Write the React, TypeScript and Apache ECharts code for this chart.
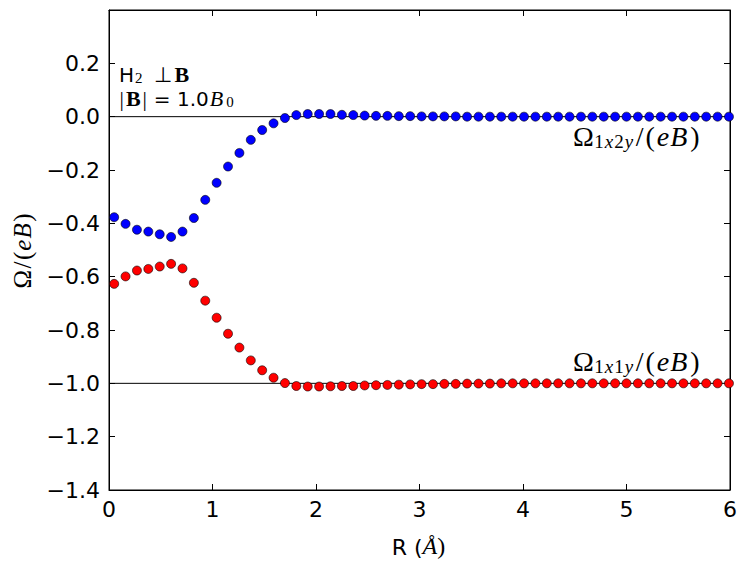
import React, { useEffect, useRef } from 'react';
import * as echarts from 'echarts';

const R_VALUES = [
  0.05, 0.16, 0.27, 0.38, 0.49, 0.6, 0.71, 0.82, 0.93, 1.04, 1.15, 1.26, 1.37, 1.48,
  1.59, 1.7, 1.81, 1.92, 2.03, 2.14, 2.25, 2.36, 2.47, 2.58, 2.69, 2.8, 2.91, 3.02,
  3.13, 3.24, 3.35, 3.46, 3.57, 3.68, 3.79, 3.9, 4.01, 4.12, 4.23, 4.34, 4.45, 4.56,
  4.67, 4.78, 4.89, 5.0, 5.11, 5.22, 5.33, 5.44, 5.55, 5.66, 5.77, 5.88, 5.99,
];

const OMEGA_1X2Y = [
  -0.377, -0.402, -0.424, -0.431, -0.441, -0.451, -0.431, -0.38, -0.312, -0.248, -0.187,
  -0.136, -0.087, -0.05, -0.025, -0.005, 0.006, 0.01, 0.01, 0.01, 0.007, 0.006,
  0.004, 0.003, 0.003, 0.002, 0.002, 0.001, 0.001, 0.001, 0.001, 0.0, 0.0, 0.0,
  0.0, 0.0, 0.0, 0.0, 0.0, 0.0, 0.0, 0.0, 0.0, 0.0, 0.0, 0.0, 0.0, 0.0, 0.0, 0.0,
  0.0, 0.0, 0.0, 0.0, 0.0,
];

const OMEGA_1X1Y = [
  -0.627, -0.599, -0.577, -0.571, -0.562, -0.552, -0.569, -0.623, -0.69, -0.754, -0.814,
  -0.866, -0.914, -0.951, -0.979, -0.999, -1.01, -1.012, -1.012, -1.011, -1.01, -1.01,
  -1.008, -1.007, -1.006, -1.005, -1.004, -1.003, -1.003, -1.002, -1.002, -1.001, -1.001,
  -1.001, -1.0, -1.0, -1.0, -1.0, -1.0, -1.0, -1.0, -1.0, -1.0, -1.0, -1.0, -1.0, -1.0,
  -1.0, -1.0, -1.0, -1.0, -1.0, -1.0, -1.0, -1.0,
];

const REFERENCE_LEVELS = [0, -1];
const X_RANGE = [0, 6];
const Y_RANGE = [-1.4, 0.4];

const SANS = 'DejaVu Sans';
const SERIF = 'Liberation Serif';

function fmtY(v: number): string {
  if (v > 0.35) return '';
  const s = (Math.abs(v) < 1e-9 ? 0 : v).toFixed(1);
  return s.replace('-', '\u2212');
}

export default function App() {
  const ref = useRef<HTMLDivElement>(null);

  useEffect(() => {
    if (!ref.current) return;
    const chart = echarts.init(ref.current, undefined, { renderer: 'svg' });

    const tickStyle = { show: true, inside: true, length: 6, lineStyle: { color: '#000', width: 1 } };
    const lineStyle = { show: true, onZero: false, lineStyle: { color: '#000', width: 1 } };

    const tok = (family: string, size: number, lh: number, extra: any = {}) => ({
      fontFamily: family,
      fontSize: size,
      lineHeight: lh,
      verticalAlign: 'bottom',
      color: '#000',
      ...extra,
    });

    const omegaRich = {
      m: tok(SERIF, 28, 32),
      sl: tok(SERIF, 28, 32, { padding: [0, 2, 0, 2] }),
      lp: tok(SERIF, 28, 32, { padding: [0, 1, 0, 0] }),
      rp: tok(SERIF, 28, 32, { padding: [0, 0, 0, 1] }),
      e: tok(SERIF, 28, 32, { fontStyle: 'italic', padding: [0, 1, 0, 1] }),
      b: tok(SERIF, 28, 32, { fontStyle: 'italic', padding: [0, 2, 0, 0] }),
      sd: tok(SERIF, 19, 10, { padding: [0, 0.5, 0, 0.5] }),
      si: tok(SERIF, 19, 10, { fontStyle: 'italic', padding: [0, 0.5, 0, 0.5] }),
    };

    const option: any = {
      animation: false,
      backgroundColor: '#fff',
      grid: {
        left: 109,
        top: 10,
        right: 16,
        bottom: 77,
        show: true,
        borderColor: '#000',
        borderWidth: 1,
        backgroundColor: 'transparent',
      },
      xAxis: [
        {
          type: 'value',
          min: X_RANGE[0],
          max: X_RANGE[1],
          interval: 1,
          position: 'bottom',
          axisLine: lineStyle,
          axisTick: tickStyle,
          splitLine: { show: false },
          axisLabel: { fontFamily: SANS, fontSize: 22, color: '#000', margin: 8 },
        },
        {
          type: 'value',
          min: X_RANGE[0],
          max: X_RANGE[1],
          interval: 1,
          position: 'top',
          axisLine: lineStyle,
          axisTick: tickStyle,
          splitLine: { show: false },
          axisLabel: { show: false },
        },
      ],
      yAxis: [
        {
          type: 'value',
          min: Y_RANGE[0],
          max: Y_RANGE[1],
          interval: 0.2,
          position: 'left',
          axisLine: lineStyle,
          axisTick: tickStyle,
          splitLine: { show: false },
          axisLabel: { fontFamily: SANS, fontSize: 22, color: '#000', margin: 9, formatter: fmtY },
        },
        {
          type: 'value',
          min: Y_RANGE[0],
          max: Y_RANGE[1],
          interval: 0.2,
          position: 'right',
          axisLine: lineStyle,
          axisTick: tickStyle,
          splitLine: { show: false },
          axisLabel: { show: false },
        },
      ],
      series: [
        ...REFERENCE_LEVELS.map((lvl) => ({
          type: 'line',
          data: [
            [X_RANGE[0], lvl],
            [X_RANGE[1], lvl],
          ],
          symbol: 'none',
          lineStyle: { color: '#000', width: 1 },
          z: 1,
          silent: true,
        })),
        {
          type: 'scatter',
          data: R_VALUES.map((r, i) => [r, OMEGA_1X1Y[i]]),
          symbolSize: 9,
          itemStyle: { color: '#ff0000', borderColor: '#000', borderWidth: 0.6, opacity: 1 },
          z: 3,
        },
        {
          type: 'scatter',
          data: R_VALUES.map((r, i) => [r, OMEGA_1X2Y[i]]),
          symbolSize: 9,
          itemStyle: { color: '#0000ff', borderColor: '#000', borderWidth: 0.6, opacity: 1 },
          z: 3,
        },
      ],
      graphic: [
        {
          type: 'text',
          x: 119,
          y: 73,
          z: 10,
          style: {
            text: '{h|H}{s|2}{p|\u22A5}{b|B}',
            verticalAlign: 'middle',
            align: 'left',
            rich: {
              h: tok(SANS, 20, 24),
              s: tok(SERIF, 15, 6, { padding: [0, 0, 0, 1] }),
              p: tok(SERIF, 21, 24, { padding: [0, 2, 0, 11] }),
              b: tok(SERIF, 22, 24, { fontWeight: 'bold', padding: [0, 0, 0, 1] }),
            },
          },
        },
        {
          type: 'text',
          x: 119,
          y: 97,
          z: 10,
          style: {
            text: '{p||}{b|B}{p||}{h| = 1.0}{i|B}{s|0}',
            verticalAlign: 'middle',
            align: 'left',
            rich: {
              h: tok(SANS, 20, 24, { padding: [0, 1, 0, 0] }),
              s: tok(SERIF, 15, 6, { padding: [0, 0, 0, 1] }),
              p: tok(SERIF, 22, 24, { padding: [0, 0.5, 0, 0.5] }),
              b: tok(SERIF, 22, 24, { fontWeight: 'bold', padding: [0, 1.5, 0, 1.5] }),
              i: tok(SERIF, 22, 24, { fontStyle: 'italic', padding: [0, 2, 0, 0] }),
            },
          },
        },
        ...[
          { y: 134.6, sub: '1x2y' },
          { y: 359.6, sub: '1x1y' },
        ].map((lab) => ({
          type: 'text',
          x: 573,
          y: lab.y,
          z: 10,
          style: {
            text:
              '{m|\u03A9}' +
              lab.sub
                .split('')
                .map((c) => (/[0-9]/.test(c) ? `{sd|${c}}` : `{si|${c}}`))
                .join('') +
              '{sl|/}{lp|(}{e|e}{b|B}{rp|)}',
            verticalAlign: 'middle',
            align: 'left',
            rich: omegaRich,
          },
        })),
        {
          type: 'text',
          x: 20.5,
          y: 251,
          rotation: Math.PI / 2,
          z: 10,
          style: {
            text: '{m|\u03A9}{sl|/}{m|(}{e|e}{b|B}{m|)}',
            align: 'center',
            verticalAlign: 'middle',
            rich: {
              m: tok(SERIF, 25, 28),
              sl: tok(SERIF, 25, 28, { padding: [0, 1.5, 0, 1.5] }),
              e: tok(SERIF, 25, 28, { fontStyle: 'italic', padding: [0, 1, 0, 1] }),
              b: tok(SERIF, 25, 28, { fontStyle: 'italic', padding: [0, 1.5, 0, 0] }),
            },
          },
        },
        {
          type: 'text',
          x: 418.5,
          y: 545.4,
          z: 10,
          style: {
            text: '{r|R (}{i|\u00C5}{m|)}',
            align: 'center',
            verticalAlign: 'middle',
            rich: {
              r: tok(SANS, 22, 26),
              i: tok(SERIF, 24, 26, { fontStyle: 'italic' }),
              m: tok(SERIF, 24, 26),
            },
          },
        },
      ],
    };

    chart.setOption(option);
    return () => chart.dispose();
  }, []);

  return (
    <div
      ref={ref}
      style={{ position: 'absolute', left: 0, top: 0, width: 746, height: 567, background: '#fff' }}
    />
  );
}
